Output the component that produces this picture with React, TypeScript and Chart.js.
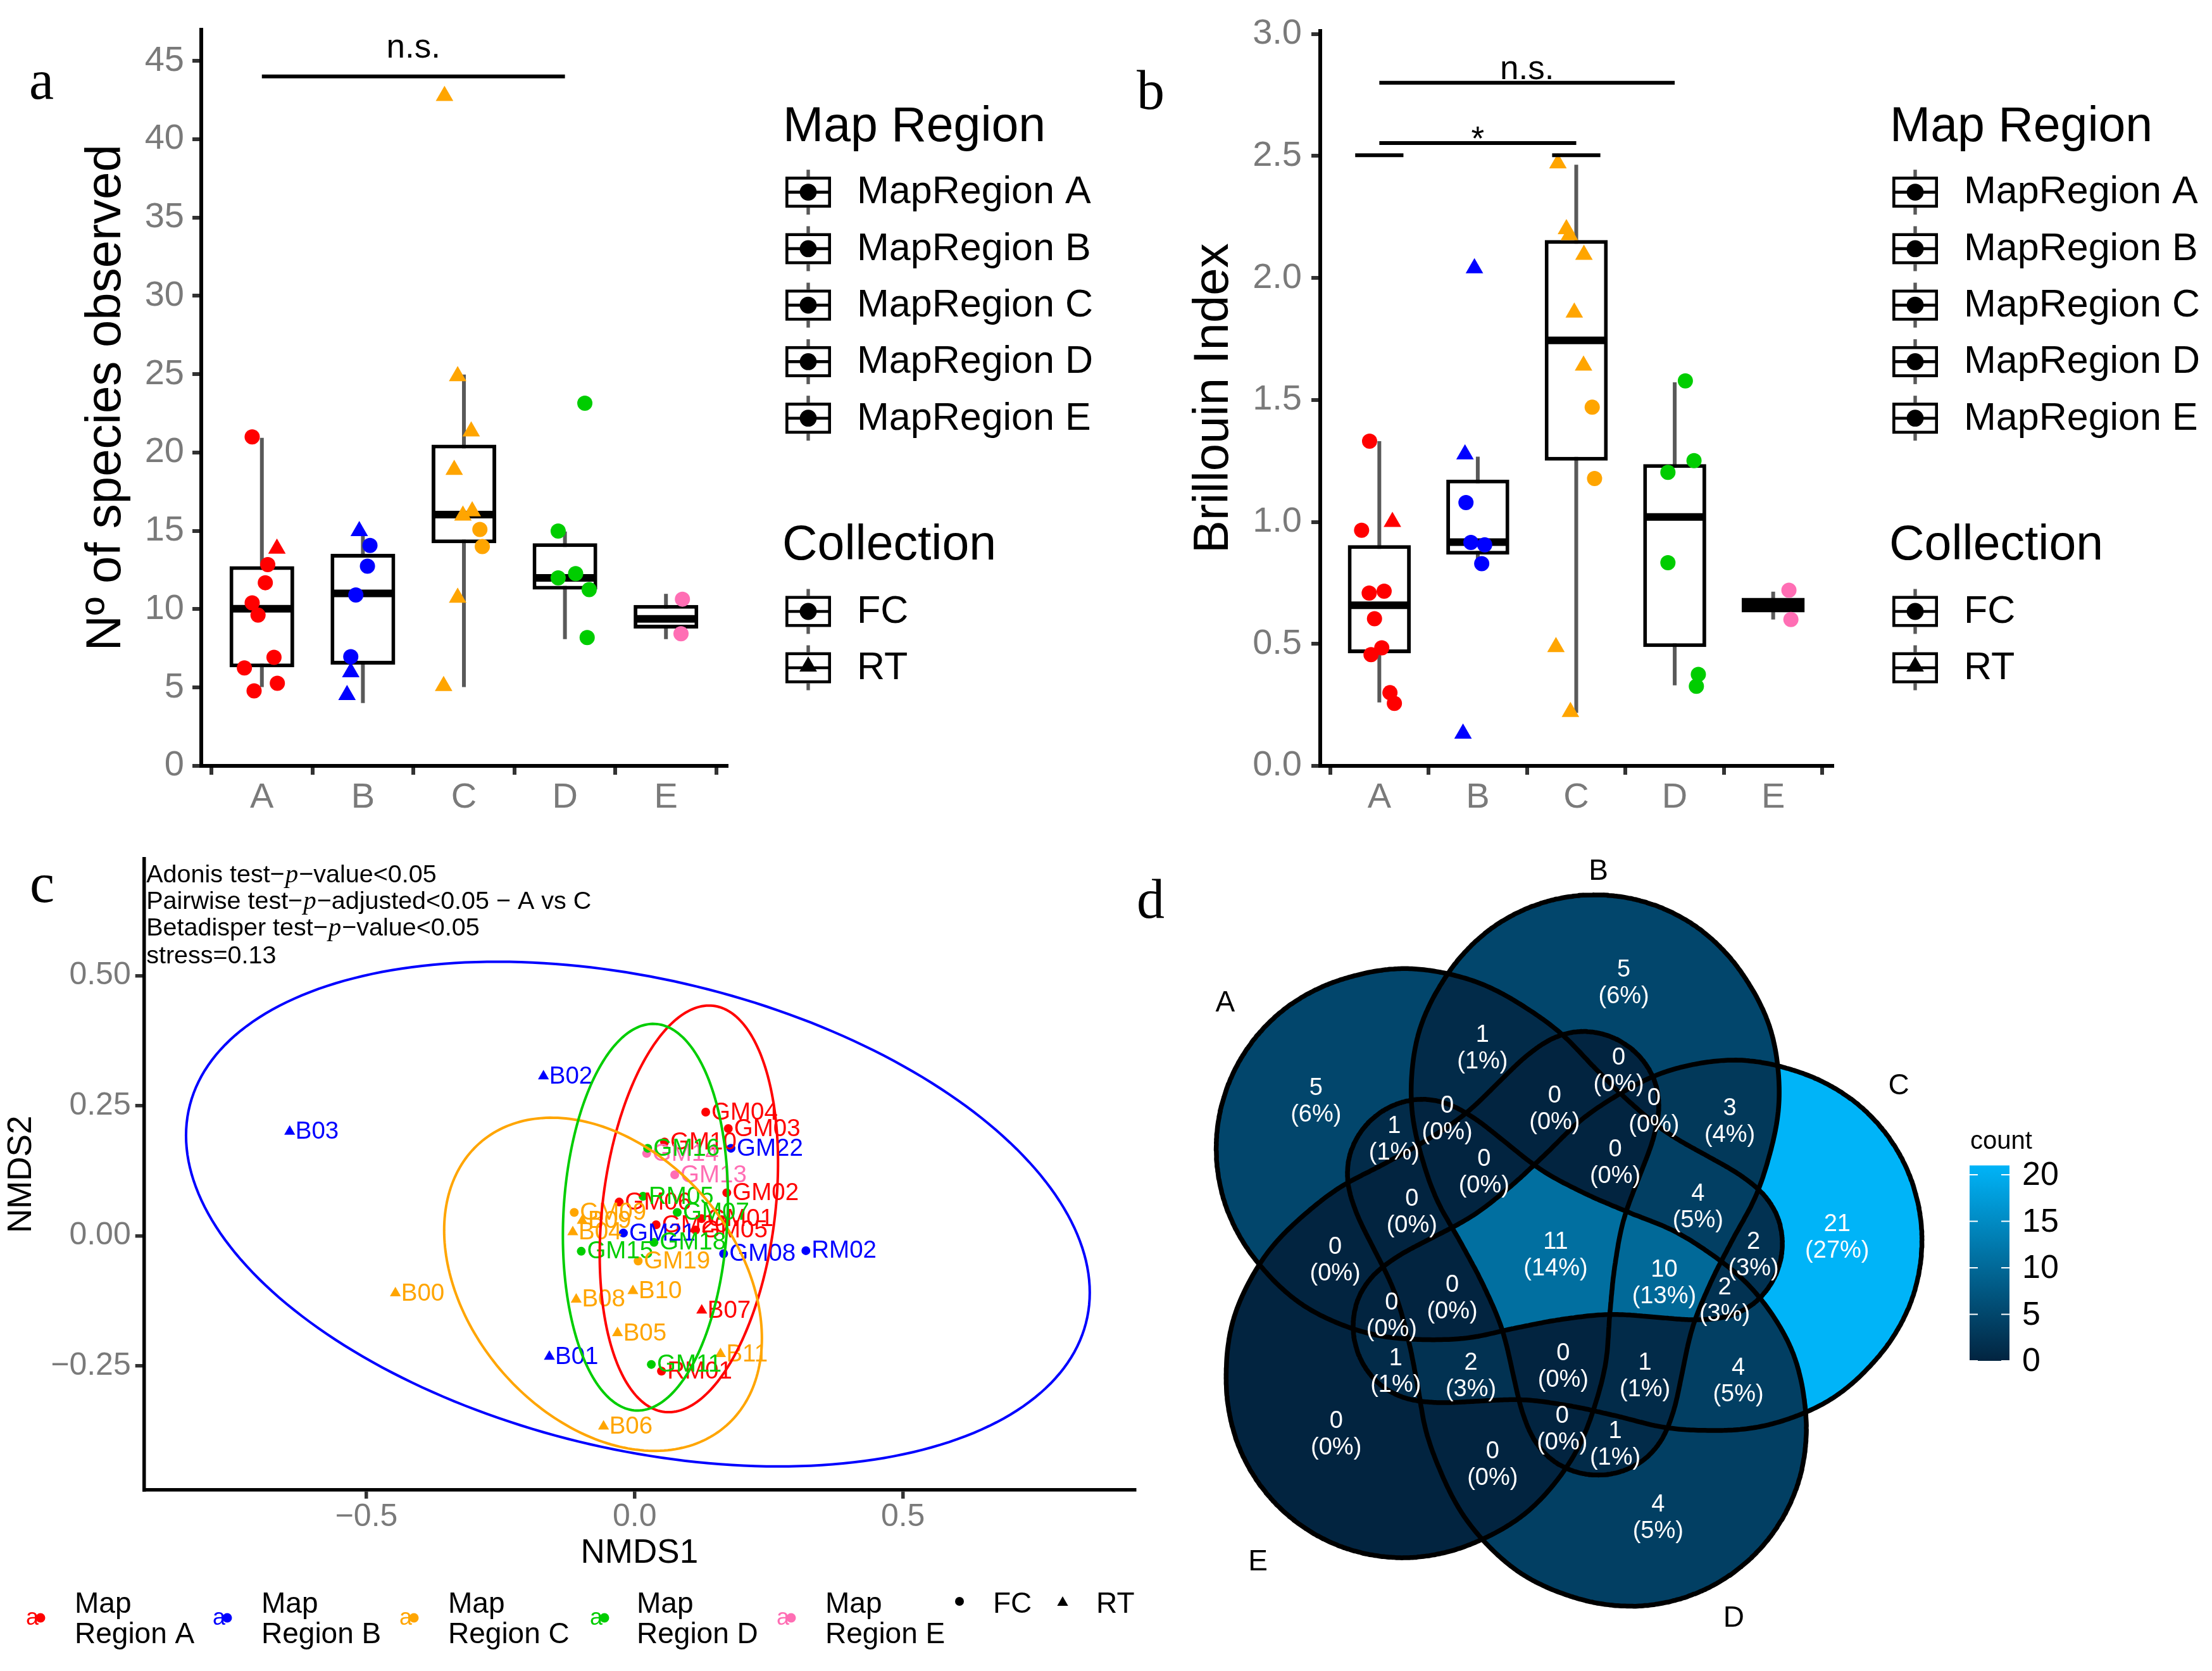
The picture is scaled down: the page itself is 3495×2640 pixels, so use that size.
import React, { useEffect, useRef } from 'react';
import { Chart, registerables } from 'chart.js';

Chart.register(...registerables);

const SANS = '"Liberation Sans", Arial, Helvetica, sans-serif';
const SERIF = '"Liberation Serif", "Times New Roman", Times, serif';
Chart.defaults.font.family = SANS;

const TICK_GREY = '#7a7a7a';
const TICK_MARK = '#333333';
const WHISKER_GREY = '#595959';
const MINUS = '\u2212';

// ---------------- shared categories ----------------
const regionNames = ['A', 'B', 'C', 'D', 'E'];
const regionLegendLabels = ['MapRegion A', 'MapRegion B', 'MapRegion C', 'MapRegion D', 'MapRegion E'];
const regionColors = ['#FF0000', '#0000FF', '#FFA500', '#00CD00', '#FF6EB4'];
const collectionNames = ['FC', 'RT'];

// ---------------- (a) number of species observed ----------------
const richRegion = [0, 0, 0, 0, 0, 0, 0, 0, 0, 0, 1, 1, 1, 1, 1, 1, 1, 2, 2, 2, 2, 2, 2, 2, 2, 2, 2, 3, 3, 3, 3, 3, 3, 4, 4];
const richCollection = ['FC', 'RT', 'FC', 'FC', 'FC', 'FC', 'FC', 'FC', 'FC', 'FC', 'RT', 'FC', 'FC', 'FC', 'FC', 'RT', 'RT', 'RT', 'RT', 'RT', 'RT', 'RT', 'RT', 'FC', 'FC', 'RT', 'RT', 'FC', 'FC', 'FC', 'FC', 'FC', 'FC', 'FC', 'FC'];
const richValue = [21.0, 13.87, 12.85, 11.69, 10.4, 9.62, 6.93, 6.25, 5.27, 4.79, 14.99, 14.07, 12.75, 10.91, 6.97, 5.98, 4.52, 42.76, 24.88, 21.35, 18.9, 15.98, 16.25, 15.09, 14.0, 10.74, 5.1, 23.15, 14.99, 12.27, 12.0, 11.25, 8.19, 10.64, 8.43];
const richJitter = [-0.096, 0.149, 0.058, 0.034, -0.096, -0.038, 0.12, -0.173, 0.153, -0.077, -0.036, 0.07, 0.045, -0.07, -0.12, -0.12, -0.157, -0.192, -0.062, 0.072, -0.096, -0.01, 0.082, 0.158, 0.182, -0.062, -0.201, 0.197, -0.067, 0.106, -0.067, 0.24, 0.22, 0.163, 0.149];
const richQ1 = [6.29, 6.46, 14.21, 11.25, 8.77];
const richMedian = [10.03, 11.01, 16.04, 12.0, 9.38];
const richQ3 = [12.75, 13.53, 20.5, 14.21, 10.27];
const richLow = [5.03, 4.01, 5.03, 8.09, 8.09];
const richHigh = [20.94, 14.99, 24.98, 14.96, 10.98];
const richTicks = [0, 5, 10, 15, 20, 25, 30, 35, 40, 45];
const richSigFrom = [0];
const richSigTo = [3];
const richSigY = [44];
const richSigLabel = ['n.s.'];
const richSigLabelY = [45.2];

// ---------------- (b) Brillouin index ----------------
const brillRegion = [0, 0, 0, 0, 0, 0, 0, 0, 0, 0, 1, 1, 1, 1, 1, 1, 1, 2, 2, 2, 2, 2, 2, 2, 2, 2, 2, 3, 3, 3, 3, 3, 3, 4, 4];
const brillCollection = ['FC', 'FC', 'RT', 'FC', 'FC', 'FC', 'FC', 'FC', 'FC', 'FC', 'RT', 'RT', 'FC', 'FC', 'FC', 'FC', 'RT', 'RT', 'RT', 'RT', 'RT', 'RT', 'RT', 'FC', 'FC', 'RT', 'RT', 'FC', 'FC', 'FC', 'FC', 'FC', 'FC', 'FC', 'FC'];
const brillValue = [1.331, 0.966, 1.0, 0.708, 0.716, 0.603, 0.484, 0.456, 0.3, 0.256, 2.04, 1.277, 1.079, 0.916, 0.906, 0.829, 0.132, 2.47, 2.2, 2.175, 2.095, 1.858, 1.641, 1.47, 1.178, 0.487, 0.221, 1.578, 1.251, 1.203, 0.833, 0.375, 0.326, 0.72, 0.6];
const brillJitter = [-0.099, -0.18, 0.133, -0.103, 0.049, -0.049, 0.025, -0.084, 0.108, 0.153, -0.034, -0.13, -0.12, -0.07, 0.07, 0.04, -0.15, -0.186, -0.1, -0.07, 0.078, -0.02, 0.074, 0.162, 0.186, -0.206, -0.059, 0.108, 0.196, -0.069, -0.069, 0.24, 0.22, 0.16, 0.18];
const brillQ1 = [0.462, 0.866, 1.251, 0.487, 0.629];
const brillMedian = [0.658, 0.917, 1.744, 1.02, 0.659];
const brillQ3 = [0.905, 1.173, 2.155, 1.237, 0.689];
const brillLow = [0.26, 0.829, 0.217, 0.33, 0.6];
const brillHigh = [1.331, 1.267, 2.464, 1.572, 0.714];
const brillTicks = [0, 0.5, 1, 1.5, 2, 2.5, 3];
const brillSigFrom = [0, 0];
const brillSigTo = [3, 2];
const brillSigY = [2.8, 2.553];
const brillSigLabel = ['n.s.', '*'];
const brillSigLabelY = [2.815, 2.523];
const brillTipGroups = [0, 2];
const brillTipY = 2.503;

// ---------------- (c) NMDS ----------------
const nmdsSample = ['GM04', 'GM03', 'GM10', 'GM02', 'GM06', 'GM01', 'GM20', 'GM05', 'RM01', 'B07', 'GM22', 'GM21', 'GM08', 'RM02', 'B02', 'B03', 'B01', 'GM09', 'GM19', 'B09', 'B04', 'B00', 'B08', 'B10', 'B05', 'B11', 'B06', 'GM16', 'RM05', 'GM07', 'GM15', 'GM18', 'GM11', 'GM14', 'GM13'];
const nmdsRegion = [0, 0, 0, 0, 0, 0, 0, 0, 0, 0, 1, 1, 1, 1, 1, 1, 1, 2, 2, 2, 2, 2, 2, 2, 2, 2, 2, 3, 3, 3, 3, 3, 3, 4, 4];
const nmdsCollection = ['FC', 'FC', 'FC', 'FC', 'FC', 'FC', 'FC', 'FC', 'FC', 'RT', 'FC', 'FC', 'FC', 'FC', 'RT', 'RT', 'RT', 'FC', 'FC', 'RT', 'RT', 'RT', 'RT', 'RT', 'RT', 'RT', 'RT', 'FC', 'FC', 'FC', 'FC', 'FC', 'FC', 'FC', 'FC'];
const nmds1 = [0.1324, 0.1745, 0.0557, 0.1717, -0.0289, 0.1245, 0.04, 0.1135, 0.05, 0.125, 0.1795, -0.021, 0.1658, 0.3191, -0.17, -0.643, -0.159, -0.1127, 0.0065, -0.0977, -0.1154, -0.446, -0.109, -0.0033, -0.032, 0.16, -0.058, 0.0242, 0.0156, 0.0793, -0.0996, 0.036, 0.031, 0.0223, 0.0746];
const nmds2 = [0.2381, 0.2063, 0.1805, 0.083, 0.0651, 0.0333, 0.0214, 0.0114, -0.26, -0.143, 0.1685, 0.0055, -0.0343, -0.0283, 0.307, 0.2006, -0.232, 0.0452, -0.0482, 0.0293, 0.0075, -0.11, -0.122, -0.1058, -0.1865, -0.2268, -0.366, 0.1685, 0.0762, 0.0452, -0.0295, -0.0124, -0.247, 0.1585, 0.1176];
const nmdsXTicks = [-0.5, 0, 0.5];
const nmdsYTicks = [-0.25, 0, 0.25, 0.5];
const ellipseRegion = [0, 1, 2, 3];
const ellipseCx = [0.101, 0.006, -0.059, 0.02];
const ellipseCy = [0.052, 0.042, -0.093, 0.036];
const ellipseSemiMajor = [0.393, 0.861, 0.356, 0.372];
const ellipseSemiMinor = [0.161, 0.451, 0.252, 0.153];
const ellipseAngle = [83.4, -14.1, -51.8, 87.3];
const statLines = ['Adonis test\u2212{p}\u2212value<0.05', 'Pairwise test\u2212{p}\u2212adjusted<0.05 \u2212 A vs C', 'Betadisper test\u2212{p}\u2212value<0.05', 'stress=0.13'];

// ---------------- (d) Venn diagram ----------------
const vennSets = ['A', 'B', 'C', 'D', 'E'];
const vennCx = [492.3, 641.7, 704.6, 582.0, 435.3];
const vennCy = [536.8, 542.1, 676.8, 789.5, 702.3];
const vennAngle = [196.9, 269.5, 344.8, 50.9, 123.4];
const vennHalfLength = [458.4, 458.4, 458.4, 458.4, 458.4];
const vennHalfWidth = [279.0, 279.0, 279.0, 279.0, 279.0];
// width profile of each (egg shaped) set along its axis: s = -1 inner tip, s = 1 outer petal
const vennProfileS = [-1, -0.96, -0.9, -0.79, -0.65, -0.5, -0.35, -0.2, -0.05, 0.1, 0.25, 0.4, 0.55, 0.7, 0.826, 0.9, 1];
const vennProfileG = [0.84, 0.82, 0.77, 0.69, 0.63, 0.62, 0.68, 0.78, 0.9, 0.99, 1.07, 1.13, 1.18, 1.21, 1.24, 1.26, 1.28];
const vennSetLabelX = [55.8, 645.7, 1120.0, 859.4, 107.6];
const vennSetLabelY = [255.1, 47.8, 386.6, 1227.7, 1138.4];
const vennLabelX = [199.3, 685.6, 1022.8, 739.8, 231.2, 462.4, 322.9, 406.6, 576.4, 677.6, 733.4, 853.0, 464.8, 672.0, 802.8, 350.8, 229.6, 578.0, 749.4, 890.5, 845.0, 318.9, 414.5, 325.3, 444.0, 589.9, 719.1, 866.5, 588.3, 672.0, 478.3];
const vennLabelY = [410.6, 223.2, 625.8, 1068.2, 936.7, 326.8, 470.3, 438.5, 422.5, 362.7, 426.5, 442.4, 522.2, 507.8, 578.0, 585.9, 661.7, 653.7, 697.5, 653.7, 725.4, 749.4, 721.5, 837.1, 845.0, 829.1, 845.0, 853.0, 928.7, 952.6, 984.5];
const vennCount = [5, 5, 21, 4, 0, 1, 1, 0, 0, 0, 0, 3, 0, 0, 4, 0, 0, 11, 10, 2, 2, 0, 0, 1, 2, 0, 1, 4, 0, 1, 0];
const vennColorTicks = [0, 5, 10, 15, 20];
const vennLow = [2, 36, 64];
const vennHigh = [0, 180, 248];

// ---------------- helpers ----------------
function drawTriangle(ctx: any, cx: number, cy: number, r: number) {
  ctx.beginPath();
  ctx.moveTo(cx, cy - r);
  ctx.lineTo(cx + r * 0.866, cy + r * 0.5);
  ctx.lineTo(cx - r * 0.866, cy + r * 0.5);
  ctx.closePath();
  ctx.fill();
}

function drawTag(ctx: any, tag: string, x: number, y: number) {
  ctx.save();
  ctx.fillStyle = '#000';
  ctx.font = `88px ${SERIF}`;
  ctx.textAlign = 'left';
  ctx.textBaseline = 'alphabetic';
  ctx.fillText(tag, x, y);
  ctx.restore();
}

function drawBoxKey(ctx: any, cx: number, cy: number, shape: string) {
  ctx.save();
  ctx.strokeStyle = WHISKER_GREY;
  ctx.lineWidth = 5.4;
  ctx.beginPath();
  ctx.moveTo(cx, cy - 35.5);
  ctx.lineTo(cx, cy + 35.5);
  ctx.stroke();
  ctx.fillStyle = '#fff';
  ctx.fillRect(cx - 36, cy - 24.5, 72, 49);
  ctx.strokeStyle = '#000';
  ctx.lineWidth = 4.6;
  ctx.strokeRect(cx - 33.7, cy - 22.2, 67.4, 44.4);
  ctx.beginPath();
  ctx.moveTo(cx - 33.7, cy);
  ctx.lineTo(cx + 33.7, cy);
  ctx.stroke();
  ctx.fillStyle = '#000';
  if (shape === 'FC') {
    ctx.beginPath();
    ctx.arc(cx, cy, 13.4, 0, Math.PI * 2);
    ctx.fill();
  } else {
    drawTriangle(ctx, cx, cy - 2, 16);
  }
  ctx.restore();
}

function drawBoxLegend(ctx: any, L: number) {
  ctx.save();
  ctx.fillStyle = '#000';
  ctx.textAlign = 'left';
  ctx.textBaseline = 'alphabetic';
  ctx.font = `77px ${SANS}`;
  ctx.fillText('Map Region', L, 223);
  const rows = [303.6, 392.9, 482.1, 571.4, 660.7];
  rows.forEach((ry, i) => {
    drawBoxKey(ctx, L + 40, ry, 'FC');
    ctx.fillStyle = '#000';
    ctx.font = `61px ${SANS}`;
    ctx.textBaseline = 'middle';
    ctx.fillText(regionLegendLabels[i], L + 117, ry + 1);
    ctx.textBaseline = 'alphabetic';
  });
  ctx.font = `77px ${SANS}`;
  ctx.fillText('Collection', L - 1, 884);
  const crow = [966, 1055];
  collectionNames.forEach((c, i) => {
    drawBoxKey(ctx, L + 40, crow[i], c);
    ctx.fillStyle = '#000';
    ctx.font = `61px ${SANS}`;
    ctx.textBaseline = 'middle';
    ctx.fillText(c, L + 117, crow[i] + 1);
    ctx.textBaseline = 'alphabetic';
  });
  ctx.restore();
}

function axisGrid() {
  return { display: true, drawOnChartArea: false, drawTicks: true, tickLength: 14, tickWidth: 6, tickColor: TICK_MARK, color: TICK_MARK, lineWidth: 6 };
}

function buildBoxConfig(s: any) {
  const off = s.canvasLeft;
  const datasets: any[] = [
    {
      type: 'bar',
      data: s.q1.map((q: number, i: number) => ({ x: i, y: [q, s.q3[i]] })),
      backgroundColor: '#ffffff',
      borderColor: '#000000',
      borderWidth: 6,
      borderSkipped: false,
      barPercentage: 0.64,
      categoryPercentage: 1,
      order: 10,
    },
  ];
  regionNames.forEach((_, r) => {
    collectionNames.forEach((c) => {
      const idx = s.value.map((_: number, i: number) => i).filter((i: number) => s.region[i] === r && s.collection[i] === c);
      if (!idx.length) return;
      datasets.push({
        type: 'scatter',
        data: idx.map((i: number) => ({ x: r + s.jitter[i], y: s.value[i] })),
        pointStyle: c === 'FC' ? 'circle' : 'triangle',
        pointRadius: c === 'FC' ? 12 : 16,
        pointHoverRadius: c === 'FC' ? 12 : 16,
        backgroundColor: regionColors[r],
        borderColor: regionColors[r],
        borderWidth: 0,
        order: 1,
      });
    });
  });

  const plugin = {
    id: 'boxExtras',
    beforeDatasetsDraw(chart: any) {
      const { ctx } = chart;
      const x = chart.scales.x;
      const y = chart.scales.y;
      ctx.save();
      ctx.strokeStyle = WHISKER_GREY;
      ctx.lineWidth = 6;
      s.low.forEach((lo: number, i: number) => {
        const px = x.getPixelForValue(i);
        ctx.beginPath();
        ctx.moveTo(px, y.getPixelForValue(lo));
        ctx.lineTo(px, y.getPixelForValue(s.high[i]));
        ctx.stroke();
      });
      ctx.restore();
    },
    afterDatasetDraw(chart: any, args: any) {
      if (args.index !== 0) return;
      const { ctx } = chart;
      const x = chart.scales.x;
      const y = chart.scales.y;
      ctx.save();
      ctx.strokeStyle = '#000';
      ctx.lineWidth = 12;
      ctx.lineCap = 'butt';
      s.median.forEach((m: number, i: number) => {
        const py = y.getPixelForValue(m);
        ctx.beginPath();
        ctx.moveTo(x.getPixelForValue(i - 0.31), py);
        ctx.lineTo(x.getPixelForValue(i + 0.31), py);
        ctx.stroke();
      });
      ctx.restore();
    },
    afterDraw(chart: any) {
      const { ctx } = chart;
      const x = chart.scales.x;
      const y = chart.scales.y;
      ctx.save();
      ctx.strokeStyle = '#000';
      ctx.fillStyle = '#000';
      ctx.lineWidth = 6;
      s.sigFrom.forEach((f: number, k: number) => {
        const py = y.getPixelForValue(s.sigY[k]);
        ctx.beginPath();
        ctx.moveTo(x.getPixelForValue(f), py);
        ctx.lineTo(x.getPixelForValue(s.sigTo[k]), py);
        ctx.stroke();
        ctx.font = `53px ${SANS}`;
        ctx.textAlign = 'center';
        ctx.textBaseline = 'alphabetic';
        ctx.fillText(s.sigLabel[k], x.getPixelForValue((f + s.sigTo[k]) / 2), y.getPixelForValue(s.sigLabelY[k]));
      });
      if (s.tipGroups) {
        s.tipGroups.forEach((g: number) => {
          const py = y.getPixelForValue(s.tipY);
          ctx.beginPath();
          ctx.moveTo(x.getPixelForValue(g - 0.245), py);
          ctx.lineTo(x.getPixelForValue(g + 0.245), py);
          ctx.stroke();
        });
      }
      ctx.restore();
      drawTag(ctx, s.tag, s.tagX - off, s.tagBaseline);
      drawBoxLegend(ctx, s.legendLeft - off);
    },
  };

  return {
    type: 'bar',
    data: { datasets },
    plugins: [plugin],
    options: {
      responsive: false,
      animation: false,
      devicePixelRatio: 1,
      events: [],
      layout: { padding: { left: 0, top: s.area.top, right: s.canvasWidth - (s.area.right - off), bottom: 0 } },
      plugins: { legend: { display: false }, tooltip: { enabled: false } },
      scales: {
        x: {
          type: 'linear',
          min: -0.6,
          max: 4.6,
          offset: false,
          afterBuildTicks: (sc: any) => {
            sc.ticks = regionNames.map((_, i) => ({ value: i }));
          },
          afterFit: (sc: any) => {
            sc.height = s.canvasHeight - s.area.bottom;
          },
          ticks: {
            callback: (v: any) => regionNames[Math.round(Number(v))],
            font: { family: SANS, size: 56 },
            color: TICK_GREY,
            padding: 3,
            autoSkip: false,
            maxRotation: 0,
          },
          grid: axisGrid(),
          border: { display: true, color: '#000', width: 6 },
        },
        y: {
          type: 'linear',
          min: 0,
          max: s.yMax,
          afterBuildTicks: (sc: any) => {
            sc.ticks = s.yTicks.map((v: number) => ({ value: v }));
          },
          afterFit: (sc: any) => {
            sc.width = s.area.left - off;
          },
          ticks: {
            callback: (v: any) => s.yFormat(Number(v)),
            font: { family: SANS, size: 56 },
            color: TICK_GREY,
            padding: s.yTickPad,
            autoSkip: false,
          },
          grid: axisGrid(),
          border: { display: true, color: '#000', width: 6 },
          title: {
            display: true,
            text: s.yTitle,
            color: '#000',
            font: { family: SANS, size: 78 },
            padding: { top: s.yTitlePad, bottom: 0 },
          },
        },
      },
    },
  };
}

function drawRichLine(ctx: any, text: string, x: number, y: number) {
  const parts = text.split('{p}');
  let cx = x;
  parts.forEach((part, i) => {
    ctx.font = `39.5px ${SANS}`;
    ctx.fillText(part, cx, y);
    cx += ctx.measureText(part).width;
    if (i < parts.length - 1) {
      ctx.font = `italic 41px ${SERIF}`;
      ctx.fillText('p', cx + 1, y);
      cx += ctx.measureText('p').width + 2;
    }
  });
}

function buildNmdsConfig() {
  const TOP = 1320;
  const datasets: any[] = [];
  regionNames.forEach((_, r) => {
    collectionNames.forEach((c) => {
      const idx = nmdsSample.map((_, i) => i).filter((i) => nmdsRegion[i] === r && nmdsCollection[i] === c);
      if (!idx.length) return;
      datasets.push({
        type: 'scatter',
        data: idx.map((i) => ({ x: nmds1[i], y: nmds2[i] })),
        pointStyle: c === 'FC' ? 'circle' : 'triangle',
        pointRadius: c === 'FC' ? 7 : 10,
        pointHoverRadius: c === 'FC' ? 7 : 10,
        backgroundColor: regionColors[r],
        borderColor: regionColors[r],
        borderWidth: 0,
      });
    });
  });

  const plugin = {
    id: 'nmdsExtras',
    afterDatasetsDraw(chart: any) {
      const { ctx } = chart;
      const x = chart.scales.x;
      const y = chart.scales.y;
      ctx.save();
      ctx.font = `38.5px ${SANS}`;
      ctx.textAlign = 'left';
      ctx.textBaseline = 'middle';
      [0, 4, 1, 3, 2].forEach((r) => {
        nmdsSample.forEach((name, i) => {
          if (nmdsRegion[i] !== r) return;
          ctx.fillStyle = regionColors[r];
          ctx.fillText(name, x.getPixelForValue(nmds1[i]) + 9, y.getPixelForValue(nmds2[i]) + 1);
        });
      });
      ellipseRegion.forEach((r, k) => {
        const th = (ellipseAngle[k] * Math.PI) / 180;
        ctx.strokeStyle = regionColors[r];
        ctx.lineWidth = 4;
        ctx.beginPath();
        for (let j = 0; j <= 240; j++) {
          const t = (j / 240) * Math.PI * 2;
          const ex = ellipseCx[k] + ellipseSemiMajor[k] * Math.cos(t) * Math.cos(th) - ellipseSemiMinor[k] * Math.sin(t) * Math.sin(th);
          const ey = ellipseCy[k] + ellipseSemiMajor[k] * Math.cos(t) * Math.sin(th) + ellipseSemiMinor[k] * Math.sin(t) * Math.cos(th);
          const px = x.getPixelForValue(ex);
          const py = y.getPixelForValue(ey);
          if (j === 0) ctx.moveTo(px, py);
          else ctx.lineTo(px, py);
        }
        ctx.closePath();
        ctx.stroke();
      });
      ctx.restore();
    },
    afterDraw(chart: any) {
      const { ctx } = chart;
      const area = chart.chartArea;
      ctx.save();
      ctx.fillStyle = '#000';
      ctx.textAlign = 'left';
      ctx.textBaseline = 'alphabetic';
      const base = [1394, 1436, 1478, 1522];
      statLines.forEach((line, i) => drawRichLine(ctx, line, area.left + 3.5, base[i] - TOP));
      // legend
      const keyX = [41, 336, 631, 932, 1227];
      const textX = [118, 413, 708, 1006, 1304];
      regionNames.forEach((rn, i) => {
        ctx.fillStyle = regionColors[i];
        ctx.font = `36px ${SANS}`;
        ctx.fillText('a', keyX[i], 2567 - TOP);
        ctx.beginPath();
        ctx.arc(keyX[i] + 23, 2556 - TOP, 7.5, 0, Math.PI * 2);
        ctx.fill();
        ctx.fillStyle = '#000';
        ctx.font = `46px ${SANS}`;
        ctx.fillText('Map', textX[i], 2548 - TOP);
        ctx.fillText('Region ' + rn, textX[i], 2596 - TOP);
      });
      ctx.fillStyle = '#000';
      ctx.beginPath();
      ctx.arc(1516, 2530 - TOP, 7, 0, Math.PI * 2);
      ctx.fill();
      ctx.font = `46px ${SANS}`;
      ctx.fillText('FC', 1569, 2548 - TOP);
      drawTriangle(ctx, 1679, 2532 - TOP, 10);
      ctx.fillText('RT', 1732, 2548 - TOP);
      ctx.restore();
      drawTag(ctx, 'c', 47, 1425 - TOP);
      drawTag(ctx, 'd', 1796, 1450 - TOP);
    },
  };

  const fmt = (v: number, d: number) => (v < 0 ? MINUS : '') + Math.abs(v).toFixed(d);

  return {
    type: 'scatter',
    data: { datasets },
    plugins: [plugin],
    options: {
      responsive: false,
      animation: false,
      devicePixelRatio: 1,
      events: [],
      layout: { padding: { left: 0, top: 17, right: 57, bottom: 153.6 } },
      plugins: { legend: { display: false }, tooltip: { enabled: false } },
      scales: {
        x: {
          type: 'linear',
          min: -0.9144,
          max: 0.9322,
          afterBuildTicks: (sc: any) => {
            sc.ticks = nmdsXTicks.map((v) => ({ value: v }));
          },
          afterFit: (sc: any) => {
            sc.height = 132.7;
          },
          ticks: { callback: (v: any) => fmt(Number(v), 1), font: { family: SANS, size: 50 }, color: TICK_GREY, padding: 0, autoSkip: false, maxRotation: 0 },
          grid: { ...axisGrid(), tickWidth: 5.5, lineWidth: 5.5 },
          border: { display: true, color: '#000', width: 5.5 },
          title: { display: true, text: 'NMDS1', color: '#000', font: { family: SANS, size: 53 }, padding: { top: 0, bottom: 0 } },
        },
        y: {
          type: 'linear',
          min: -0.488,
          max: 0.7247,
          afterBuildTicks: (sc: any) => {
            sc.ticks = nmdsYTicks.map((v) => ({ value: v }));
          },
          afterFit: (sc: any) => {
            sc.width = 227.7;
          },
          ticks: { callback: (v: any) => fmt(Number(v), 2), font: { family: SANS, size: 50 }, color: TICK_GREY, padding: 7, autoSkip: false },
          grid: { ...axisGrid(), tickWidth: 5.5, lineWidth: 5.5 },
          border: { display: true, color: '#000', width: 5.5 },
          title: { display: true, text: 'NMDS2', color: '#000', font: { family: SANS, size: 53 }, padding: { top: 2.8, bottom: 0 } },
        },
      },
    },
  };
}

function vennColor(count: number, max: number) {
  const t = max > 0 ? Math.min(1, count / max) : 0;
  return [0, 1, 2].map((k) => Math.round(vennLow[k] + (vennHigh[k] - vennLow[k]) * t));
}

// smooth interpolation of the width profile (cubic Hermite)
function profileAt(s: number) {
  const S = vennProfileS;
  const G = vennProfileG;
  const n = S.length;
  if (s <= S[0]) return G[0];
  if (s >= S[n - 1]) return G[n - 1];
  let i = 0;
  while (i < n - 2 && s > S[i + 1]) i++;
  const slope = (j: number) => {
    if (j === 0) return (G[1] - G[0]) / (S[1] - S[0]);
    if (j === n - 1) return (G[n - 1] - G[n - 2]) / (S[n - 1] - S[n - 2]);
    return (G[j + 1] - G[j - 1]) / (S[j + 1] - S[j - 1]);
  };
  const h = S[i + 1] - S[i];
  const t = (s - S[i]) / h;
  const t2 = t * t;
  const t3 = t2 * t;
  return (2 * t3 - 3 * t2 + 1) * G[i] + (t3 - 2 * t2 + t) * h * slope(i) + (-2 * t3 + 3 * t2) * G[i + 1] + (t3 - t2) * h * slope(i + 1);
}

function buildVennConfig() {
  const W = 1615;
  const H = 1310;
  const vMax = Math.max(...vennCount);
  const total = vennCount.reduce((a, b) => a + b, 0);
  const N = 2000;
  const widthTable = new Float64Array(N + 1);
  for (let i = 0; i <= N; i++) {
    const s = -1 + (2 * i) / N;
    widthTable[i] = Math.sqrt(Math.max(0, 1 - s * s)) * profileAt(s);
  }
  const widthAt = (s: number) => widthTable[Math.round(((s + 1) / 2) * N)];

  const plugin = {
    id: 'vennExtras',
    beforeDatasetsDraw(chart: any) {
      const { ctx, chartArea: ca } = chart;
      const xs = chart.scales.x;
      const ys = chart.scales.y;
      const rad = vennAngle.map((a) => (a * Math.PI) / 180);
      const cs = rad.map(Math.cos);
      const sn = rad.map(Math.sin);
      const maskAt = (u: number, v: number) => {
        let m = 0;
        for (let k = 0; k < vennSets.length; k++) {
          const dx = u - vennCx[k];
          const dy = v - vennCy[k];
          const s = (dx * cs[k] + dy * sn[k]) / vennHalfLength[k];
          if (s <= -1 || s >= 1) continue;
          const q = -dx * sn[k] + dy * cs[k];
          if (Math.abs(q) <= vennHalfWidth[k] * widthAt(s)) m |= 1 << k;
        }
        return m;
      };
      const countOf = new Map<number, number>();
      vennLabelX.forEach((lx, i) => {
        const m = maskAt(lx, vennLabelY[i]);
        if (m && !countOf.has(m)) countOf.set(m, vennCount[i]);
      });
      const x0 = Math.floor(ca.left);
      const y0 = Math.floor(ca.top);
      const w = Math.ceil(ca.right) - x0;
      const h = Math.ceil(ca.bottom) - y0;
      const img = ctx.createImageData(w, h);
      const u0 = xs.getValueForPixel(x0 + 0.5);
      const du = xs.getValueForPixel(x0 + 1.5) - u0;
      const v0 = ys.getValueForPixel(y0 + 0.5);
      const dv = ys.getValueForPixel(y0 + 1.5) - v0;
      const cache = new Map<number, number[]>();
      for (let j = 0; j < h; j++) {
        const v = v0 + j * dv;
        for (let i = 0; i < w; i++) {
          const u = u0 + i * du;
          const m = maskAt(u, v);
          if (!m) continue;
          let c = cache.get(m);
          if (!c) {
            c = vennColor(countOf.get(m) ?? 0, vMax);
            cache.set(m, c);
          }
          const idx = (j * w + i) * 4;
          img.data[idx] = c[0];
          img.data[idx + 1] = c[1];
          img.data[idx + 2] = c[2];
          img.data[idx + 3] = 255;
        }
      }
      ctx.putImageData(img, x0, y0);
      ctx.save();
      ctx.strokeStyle = '#000';
      ctx.lineWidth = 7.5;
      ctx.lineJoin = 'round';
      vennSets.forEach((_, k) => {
        ctx.beginPath();
        const pts: number[][] = [];
        for (let j = 0; j <= 400; j++) {
          const s = Math.cos((Math.PI * j) / 400);
          pts.push([s, widthAt(s)]);
        }
        for (let j = 400; j >= 0; j--) {
          const s = Math.cos((Math.PI * j) / 400);
          pts.push([s, -widthAt(s)]);
        }
        pts.forEach(([s, wq], j) => {
          const p = s * vennHalfLength[k];
          const q = wq * vennHalfWidth[k];
          const eu = vennCx[k] + p * cs[k] - q * sn[k];
          const ev = vennCy[k] + p * sn[k] + q * cs[k];
          const px = xs.getPixelForValue(eu);
          const py = ys.getPixelForValue(ev);
          if (j === 0) ctx.moveTo(px, py);
          else ctx.lineTo(px, py);
        });
        ctx.closePath();
        ctx.stroke();
      });
      ctx.restore();
    },
    afterDatasetsDraw(chart: any) {
      const { ctx } = chart;
      const xs = chart.scales.x;
      const ys = chart.scales.y;
      const meta = chart.getDatasetMeta(0);
      ctx.save();
      ctx.fillStyle = '#fff';
      ctx.font = `38px ${SANS}`;
      ctx.textAlign = 'center';
      ctx.textBaseline = 'middle';
      meta.data.forEach((el: any, i: number) => {
        const pct = Math.round((vennCount[i] / total) * 100);
        ctx.fillText(String(vennCount[i]), el.x, el.y - 21);
        ctx.fillText(`(${pct}%)`, el.x, el.y + 21);
      });
      ctx.fillStyle = '#000';
      ctx.font = `46px ${SANS}`;
      vennSets.forEach((name, k) => {
        ctx.fillText(name, xs.getPixelForValue(vennSetLabelX[k]), ys.getPixelForValue(vennSetLabelY[k]));
      });
      // colour bar legend
      const barL = 1232;
      const barR = 1295;
      const y0 = 820;
      const per = 14.7;
      const yTop = y0 - vMax * per;
      const grad = ctx.createLinearGradient(0, y0, 0, yTop);
      const lo = vennColor(0, vMax);
      const hi = vennColor(vMax, vMax);
      grad.addColorStop(0, `rgb(${lo.join(',')})`);
      grad.addColorStop(1, `rgb(${hi.join(',')})`);
      ctx.fillStyle = grad;
      ctx.fillRect(barL, yTop, barR - barL, y0 - yTop);
      ctx.strokeStyle = '#fff';
      ctx.lineWidth = 2;
      ctx.fillStyle = '#000';
      ctx.font = `52px ${SANS}`;
      ctx.textAlign = 'left';
      ctx.textBaseline = 'middle';
      vennColorTicks.forEach((t) => {
        const ty = y0 - t * per;
        ctx.beginPath();
        ctx.moveTo(barL, ty);
        ctx.lineTo(barL + 13, ty);
        ctx.moveTo(barR - 13, ty);
        ctx.lineTo(barR, ty);
        ctx.stroke();
        ctx.fillText(String(t), 1315, ty + 2);
      });
      ctx.font = `40px ${SANS}`;
      ctx.textBaseline = 'alphabetic';
      ctx.fillText('count', 1233, 485);
      ctx.restore();
    },
  };

  return {
    type: 'scatter',
    data: {
      datasets: [
        {
          data: vennLabelX.map((x, i) => ({ x, y: vennLabelY[i] })),
          pointRadius: 0,
          pointHoverRadius: 0,
        },
      ],
    },
    plugins: [plugin],
    options: {
      responsive: false,
      animation: false,
      devicePixelRatio: 1,
      events: [],
      layout: { padding: 0 },
      plugins: { legend: { display: false }, tooltip: { enabled: false } },
      scales: {
        x: { type: 'linear', min: 0, max: W, display: false },
        y: { type: 'linear', min: 0, max: H, reverse: true, display: false },
      },
    },
  };
}

function ChartCanvas(props: { left: number; top: number; width: number; height: number; build: () => any }) {
  const ref = useRef<HTMLCanvasElement | null>(null);
  useEffect(() => {
    if (!ref.current) return;
    const chart = new Chart(ref.current, props.build());
    return () => chart.destroy();
  }, []);
  return (
    <canvas
      ref={ref}
      width={props.width}
      height={props.height}
      style={{ position: 'absolute', left: props.left, top: props.top, width: props.width, height: props.height }}
    />
  );
}

const panelA = () =>
  buildBoxConfig({
    canvasLeft: 0,
    canvasWidth: 1840,
    canvasHeight: 1320,
    area: { left: 318, top: 46, right: 1148, bottom: 1210 },
    yMax: 47.0,
    yTicks: richTicks,
    yFormat: (v: number) => String(v),
    yTickPad: 13,
    yTitle: 'N\u00ba of species observed',
    yTitlePad: 121.2,
    q1: richQ1,
    median: richMedian,
    q3: richQ3,
    low: richLow,
    high: richHigh,
    region: richRegion,
    collection: richCollection,
    value: richValue,
    jitter: richJitter,
    sigFrom: richSigFrom,
    sigTo: richSigTo,
    sigY: richSigY,
    sigLabel: richSigLabel,
    sigLabelY: richSigLabelY,
    tag: 'a',
    tagX: 46,
    tagBaseline: 156,
    legendLeft: 1237,
  });

const panelB = () =>
  buildBoxConfig({
    canvasLeft: 1790,
    canvasWidth: 1705,
    canvasHeight: 1320,
    area: { left: 2086, top: 42, right: 2895, bottom: 1210 },
    yMax: 3.013,
    yTicks: brillTicks,
    yFormat: (v: number) => v.toFixed(1),
    yTickPad: 15,
    yTitle: 'Brillouin Index',
    yTitlePad: 81.9,
    q1: brillQ1,
    median: brillMedian,
    q3: brillQ3,
    low: brillLow,
    high: brillHigh,
    region: brillRegion,
    collection: brillCollection,
    value: brillValue,
    jitter: brillJitter,
    sigFrom: brillSigFrom,
    sigTo: brillSigTo,
    sigY: brillSigY,
    sigLabel: brillSigLabel,
    sigLabelY: brillSigLabelY,
    tipGroups: brillTipGroups,
    tipY: brillTipY,
    tag: 'b',
    tagX: 1796,
    tagBaseline: 172,
    legendLeft: 2986,
  });

export default function App() {
  return (
    <div style={{ position: 'absolute', left: 0, top: 0, width: 3495, height: 2640, background: '#ffffff', overflow: 'hidden' }}>
      <ChartCanvas left={0} top={0} width={1840} height={1320} build={panelA} />
      <ChartCanvas left={1790} top={0} width={1705} height={1320} build={panelB} />
      <ChartCanvas left={0} top={1320} width={1850} height={1320} build={buildNmdsConfig} />
      <ChartCanvas left={1880} top={1330} width={1615} height={1310} build={buildVennConfig} />
    </div>
  );
}
